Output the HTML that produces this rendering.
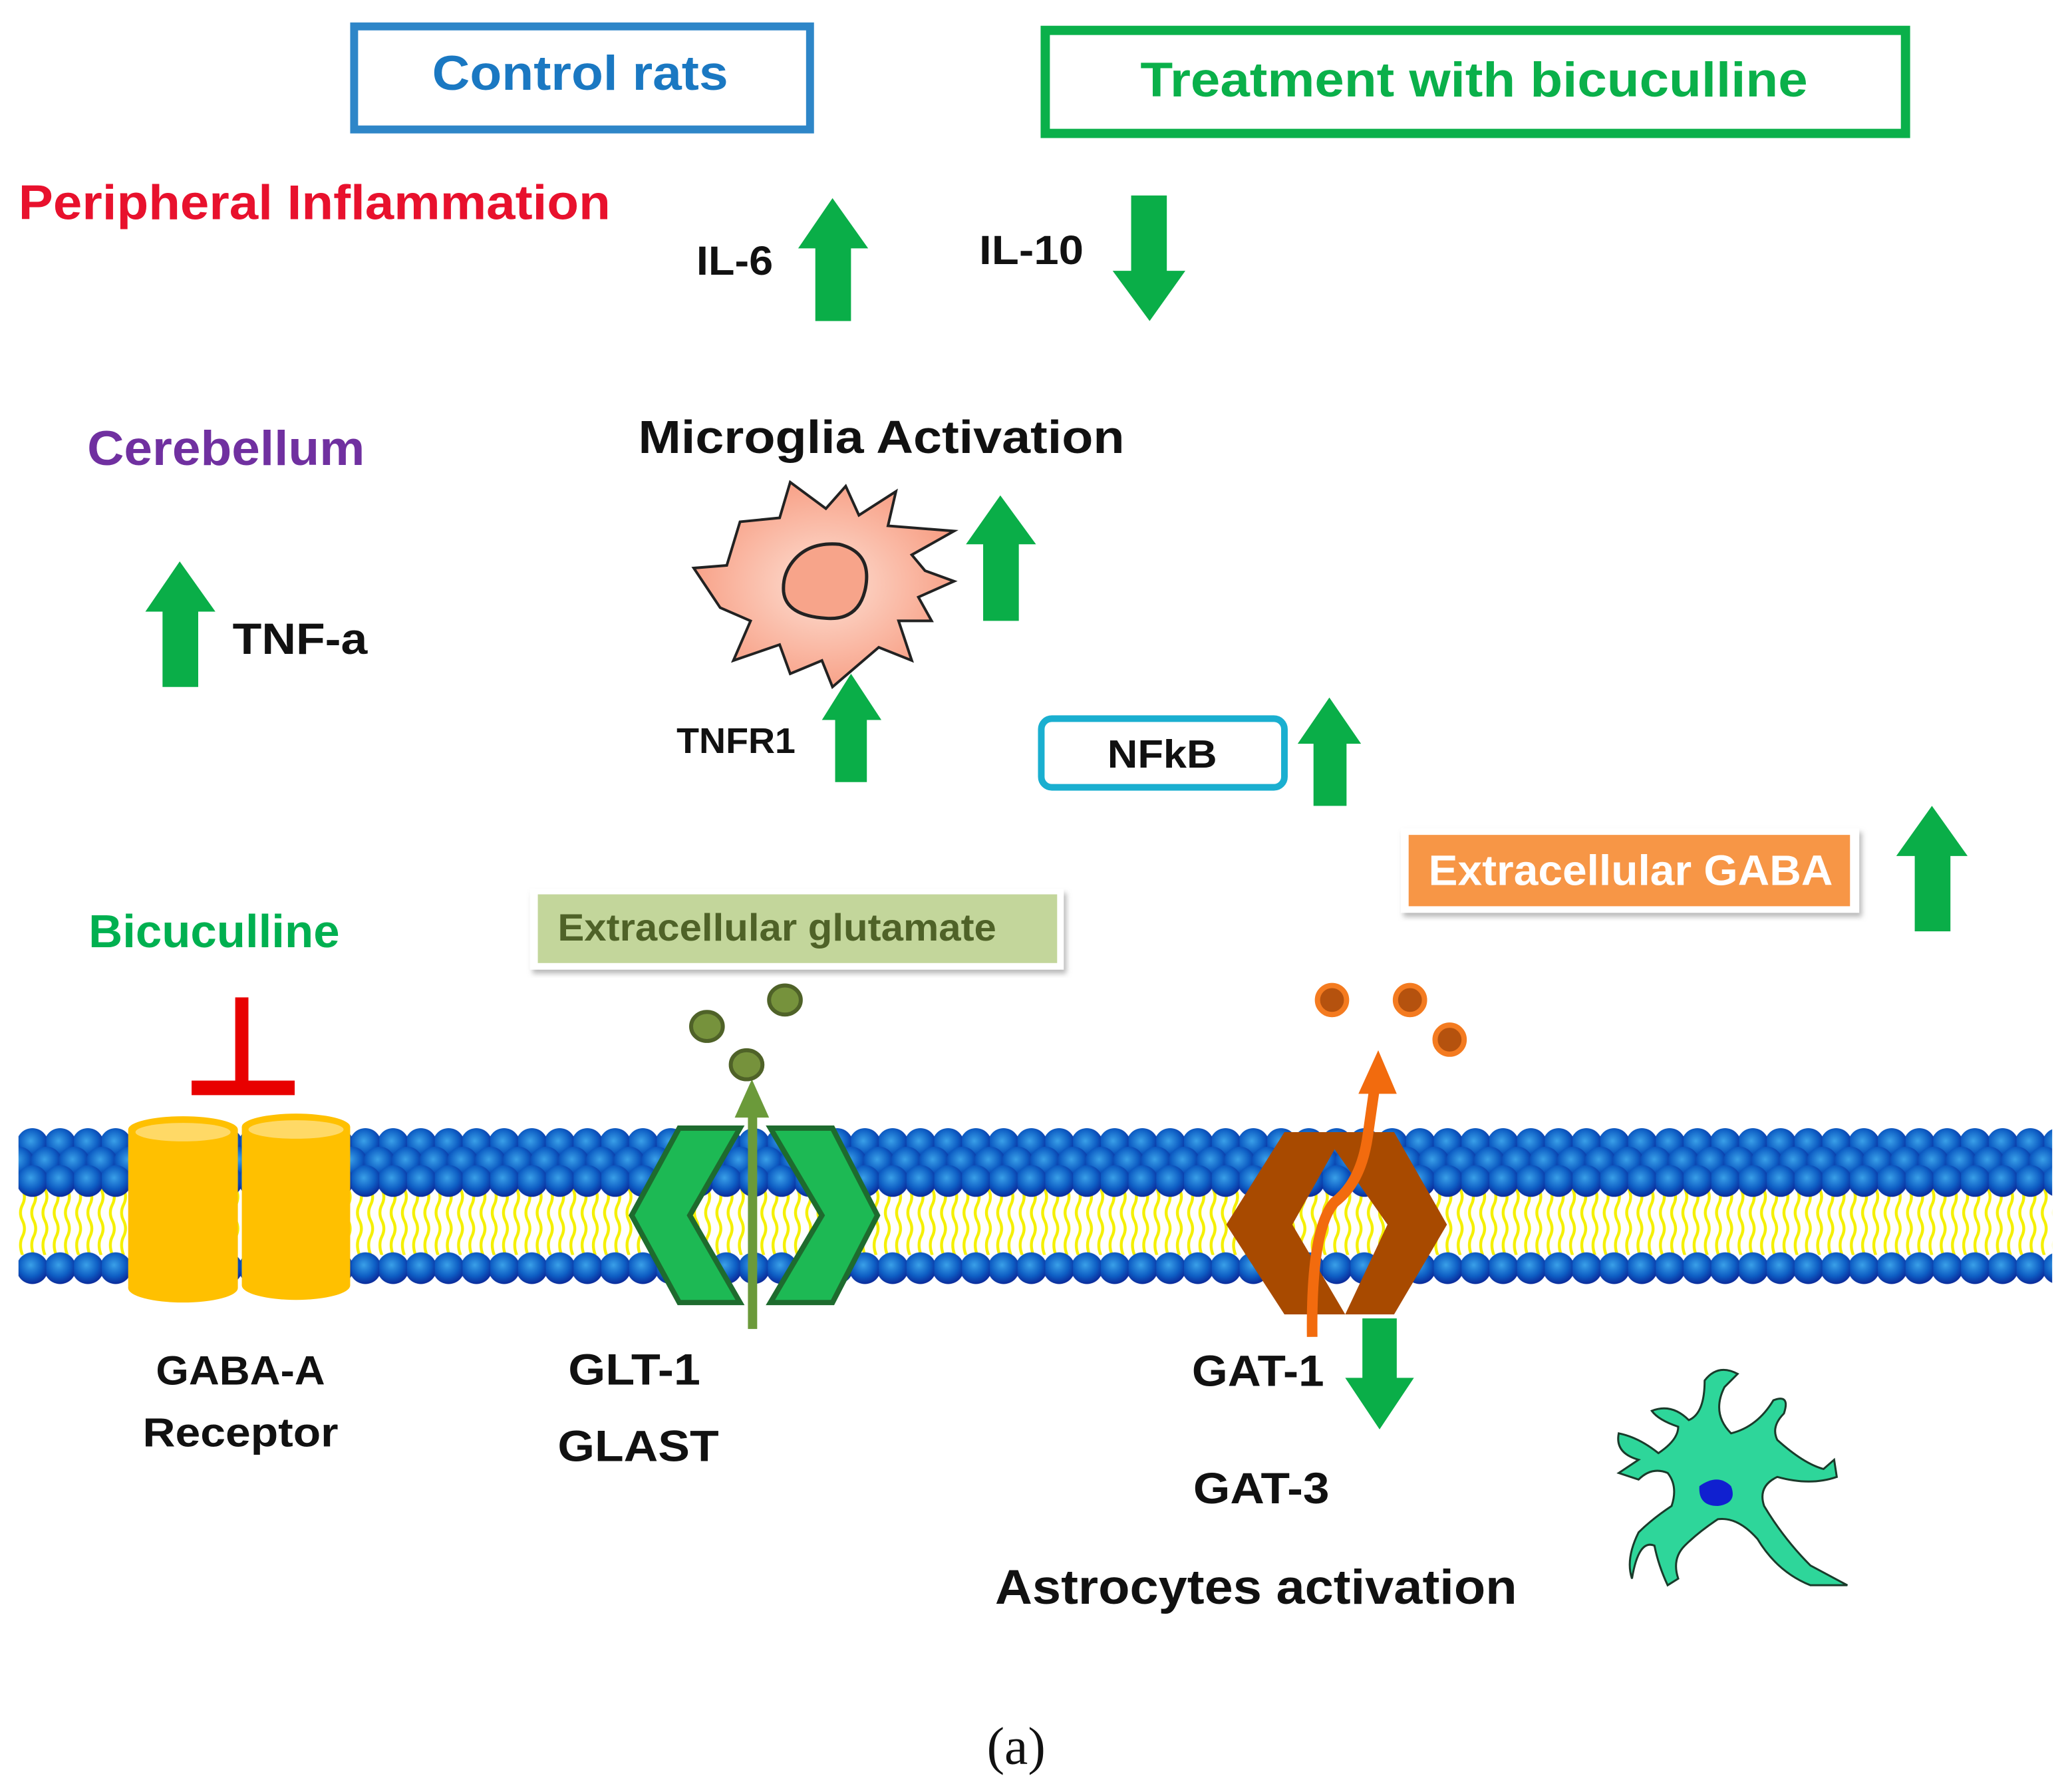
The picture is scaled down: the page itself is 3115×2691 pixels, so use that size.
<!DOCTYPE html>
<html><head><meta charset="utf-8"><style>
html,body{margin:0;padding:0;background:#fff;}
svg{display:block;}
text{font-family:"Liberation Sans",sans-serif;font-weight:bold;}
</style></head><body>
<svg width="3115" height="2691" viewBox="0 0 1568 1355" preserveAspectRatio="none" xmlns="http://www.w3.org/2000/svg">
<defs>
<radialGradient id="hd" cx="0.45" cy="0.4" r="0.6">
<stop offset="0" stop-color="#3aa0e8"/><stop offset="0.6" stop-color="#0e5ec4"/><stop offset="1" stop-color="#0a2a9a"/>
</radialGradient>
<pattern id="top" patternUnits="userSpaceOnUse" x="14" y="852" width="21" height="60">
<circle cx="10.5" cy="14" r="12" fill="url(#hd)"/>
<circle cx="0" cy="28" r="12" fill="url(#hd)"/><circle cx="21" cy="28" r="12" fill="url(#hd)"/>
<circle cx="10.5" cy="42" r="12" fill="url(#hd)"/>
</pattern>
<pattern id="bot" patternUnits="userSpaceOnUse" x="14" y="943" width="21" height="34">
<circle cx="10.5" cy="17" r="12" fill="url(#hd)"/>
</pattern>
<pattern id="tail" patternUnits="userSpaceOnUse" x="14" y="900" width="8.5" height="50">
<path d="M3 0 q3 6 0 12 q-3 6 0 12 q3 6 0 12 q-3 6 0 14" stroke="#f5f000" stroke-width="2.2" fill="none"/>
</pattern>
<radialGradient id="mg" cx="0.5" cy="0.5" r="0.6"><stop offset="0" stop-color="#fde0d4"/><stop offset="1" stop-color="#f7967a"/></radialGradient>
<filter id="sh"><feDropShadow dx="2" dy="3" stdDeviation="2" flood-color="#888" flood-opacity="0.6"/></filter>
</defs>

<rect x="268" y="20" width="345" height="78" fill="none" stroke="#2E86C8" stroke-width="6"/>
<text x="327" y="68" font-size="37" fill="#1a78c2" textLength="224" lengthAdjust="spacingAndGlyphs">Control rats</text>
<rect x="791" y="23" width="651" height="78" fill="none" stroke="#0AB04A" stroke-width="7"/>
<text x="863" y="73" font-size="37" fill="#0AB04A" textLength="505" lengthAdjust="spacingAndGlyphs">Treatment with bicuculline</text>

<text x="14" y="166" font-size="37" fill="#E8112D" textLength="448" lengthAdjust="spacingAndGlyphs">Peripheral Inflammation</text>
<text x="527" y="208" font-size="31" fill="#111" textLength="58" lengthAdjust="spacingAndGlyphs">IL-6</text>
<text x="741" y="200" font-size="31" fill="#111" textLength="79" lengthAdjust="spacingAndGlyphs">IL-10</text>
<text x="66" y="352" font-size="37" fill="#7030A0" textLength="210" lengthAdjust="spacingAndGlyphs">Cerebellum</text>
<text x="176" y="495" font-size="33" fill="#111" textLength="102" lengthAdjust="spacingAndGlyphs">TNF-a</text>
<text x="483" y="343" font-size="35" fill="#111" textLength="368" lengthAdjust="spacingAndGlyphs">Microglia Activation</text>
<text x="512" y="570" font-size="27" fill="#111" textLength="90" lengthAdjust="spacingAndGlyphs">TNFR1</text>
<text x="67" y="717" font-size="35" fill="#00B050" textLength="190" lengthAdjust="spacingAndGlyphs">Bicuculline</text>

<g fill="#0AAE48">
<polygon points="617,243 644,243 644,188 657,188 630,150 604,188 617,188"/>
<polygon points="856,148 883,148 883,205 897,205 870,243 842,205 856,205"/>
<polygon points="123,520 150,520 150,463 163,463 136,425 110,463 123,463"/>
<polygon points="744,470 771,470 771,412 784,412 757,375 731,412 744,412"/>
<polygon points="632,592 656,592 656,545 667,545 644,510 622,545 632,545"/>
<polygon points="994,610 1019,610 1019,563 1030,563 1006,528 982,563 994,563"/>
<polygon points="1449,705 1476,705 1476,648 1489,648 1462,610 1435,648 1449,648"/>
<polygon points="1031,998 1057,998 1057,1043 1070,1043 1044,1082 1018,1043 1031,1043"/>
</g>

<path d="M560,395 L590,392 L598,365 L625,385 L640,368 L650,390 L678,372 L672,398 L722,402 L690,420 L700,432 L722,440 L695,452 L705,470 L680,470 L690,500 L665,490 L630,520 L622,500 L598,510 L590,488 L555,500 L568,470 L545,460 L525,430 L550,428 Z" fill="url(#mg)" stroke="#222" stroke-width="2"/>
<path d="M600,425 Q612,410 635,412 Q660,418 655,445 Q650,470 625,468 Q595,466 593,448 Q592,435 600,425Z" fill="#f7a48a" stroke="#222" stroke-width="2.5"/>

<rect x="788" y="544" width="184" height="52" rx="8" fill="#fff" stroke="#1AAFD0" stroke-width="5"/>
<text x="838" y="581" font-size="30" fill="#111" textLength="83" lengthAdjust="spacingAndGlyphs">NFkB</text>

<rect x="1060" y="627" width="347" height="64" fill="#fff" filter="url(#sh)"/>
<rect x="1066" y="632" width="334" height="54" fill="#F79646"/>
<text x="1081" y="670" font-size="32" fill="#fff" textLength="306" lengthAdjust="spacingAndGlyphs">Extracellular GABA</text>

<rect x="401" y="673" width="404" height="61" fill="#fff" filter="url(#sh)"/>
<rect x="407" y="677" width="393" height="52" fill="#C3D69B"/>
<text x="422" y="712" font-size="29" fill="#4F6228" textLength="332" lengthAdjust="spacingAndGlyphs">Extracellular glutamate</text>

<rect x="14" y="900" width="1539" height="50" fill="url(#tail)"/>
<rect x="14" y="852" width="1539" height="56" fill="url(#top)"/>
<rect x="14" y="943" width="1539" height="34" fill="url(#bot)"/>

<rect x="178" y="755" width="10" height="70" fill="#E80000"/>
<rect x="145" y="818" width="78" height="11" fill="#E80000"/>

<g>
<rect x="97" y="855" width="83" height="120" fill="#FFC000"/>
<ellipse cx="138.5" cy="975" rx="41.5" ry="11" fill="#FFC000"/>
<ellipse cx="138.5" cy="855" rx="41.5" ry="10" fill="#FFC000"/>
<ellipse cx="138.5" cy="857" rx="36" ry="7" fill="#FFD966"/>
<rect x="183" y="853" width="82" height="120" fill="#FFC000"/>
<ellipse cx="224" cy="973" rx="41" ry="11" fill="#FFC000"/>
<ellipse cx="224" cy="853" rx="41" ry="10" fill="#FFC000"/>
<ellipse cx="224" cy="855" rx="36" ry="7" fill="#FFD966"/>
</g>
<text x="118" y="1048" font-size="31" fill="#111" textLength="128" lengthAdjust="spacingAndGlyphs">GABA-A</text>
<text x="108" y="1095" font-size="31" fill="#111" textLength="148" lengthAdjust="spacingAndGlyphs">Receptor</text>

<polygon points="514,854 560,854 522,920 560,986 514,986 478,920" fill="#1DB954" stroke="#1E6B2E" stroke-width="4"/>
<polygon points="583,854 630,854 664,920 630,986 583,986 622,920" fill="#1DB954" stroke="#1E6B2E" stroke-width="4"/>
<rect x="566" y="840" width="7" height="166" fill="#6B9A3A"/>
<polygon points="569,817 556,846 582,846" fill="#6B9A3A"/>
<g fill="#76923C" stroke="#4F6228" stroke-width="3">
<ellipse cx="535" cy="777" rx="12" ry="11"/><ellipse cx="594" cy="757" rx="12" ry="11"/><ellipse cx="565" cy="806" rx="12" ry="11"/>
</g>
<text x="430" y="1048" font-size="33" fill="#111" textLength="100" lengthAdjust="spacingAndGlyphs">GLT-1</text>
<text x="422" y="1106" font-size="33" fill="#111" textLength="122" lengthAdjust="spacingAndGlyphs">GLAST</text>

<path d="M928,927 L972,857 L1055,857 L1095,927 L1055,995 L972,995 Z M978,927 L1018,995 L1050,927 L1010,870 Z" fill="#A84A00" fill-rule="evenodd"/>
<path d="M993,1012 Q992,930 1010,910 Q1030,895 1035,860 L1040,825" stroke="#F26B0E" stroke-width="8" fill="none"/>
<polygon points="1043,795 1028,828 1057,828" fill="#F26B0E"/>
<g fill="#B5520E" stroke="#F47B20" stroke-width="4">
<circle cx="1008" cy="757" r="11"/><circle cx="1067" cy="757" r="11"/><circle cx="1097" cy="787" r="11"/>
</g>
<text x="902" y="1049" font-size="33" fill="#111" textLength="100" lengthAdjust="spacingAndGlyphs">GAT-1</text>
<text x="903" y="1138" font-size="33" fill="#111" textLength="103" lengthAdjust="spacingAndGlyphs">GAT-3</text>
<text x="753" y="1214" font-size="37" fill="#111" textLength="395" lengthAdjust="spacingAndGlyphs">Astrocytes  activation</text>

<path d="M1290,1045 Q1300,1032 1315,1040 L1305,1050 Q1295,1070 1310,1085 Q1330,1080 1342,1060 Q1355,1055 1350,1070 Q1340,1080 1345,1090 Q1365,1108 1380,1112 L1388,1105 L1390,1118 Q1370,1125 1345,1118 Q1330,1125 1335,1140 Q1350,1165 1370,1185 L1398,1200 L1370,1200 Q1345,1190 1330,1165 Q1315,1148 1300,1150 Q1285,1160 1275,1170 Q1265,1180 1270,1195 L1262,1200 Q1255,1185 1252,1170 Q1240,1165 1235,1195 Q1230,1180 1240,1160 Q1250,1150 1265,1140 Q1270,1125 1262,1115 Q1250,1110 1240,1120 L1225,1115 L1240,1105 Q1222,1100 1225,1085 Q1240,1088 1255,1100 Q1270,1090 1270,1080 Q1255,1075 1250,1068 Q1265,1062 1278,1075 Q1290,1070 1290,1045Z" fill="#2ED69A" stroke="#1a3a2a" stroke-width="1.5"/>
<path d="M1286,1125 Q1300,1115 1310,1125 Q1315,1138 1300,1140 Q1285,1140 1286,1125Z" fill="#1020d0"/>

<text x="769" y="1335" font-size="40" fill="#111" text-anchor="middle" style="font-family:'Liberation Serif',serif;font-weight:normal">(a)</text>
</svg>
</body></html>
